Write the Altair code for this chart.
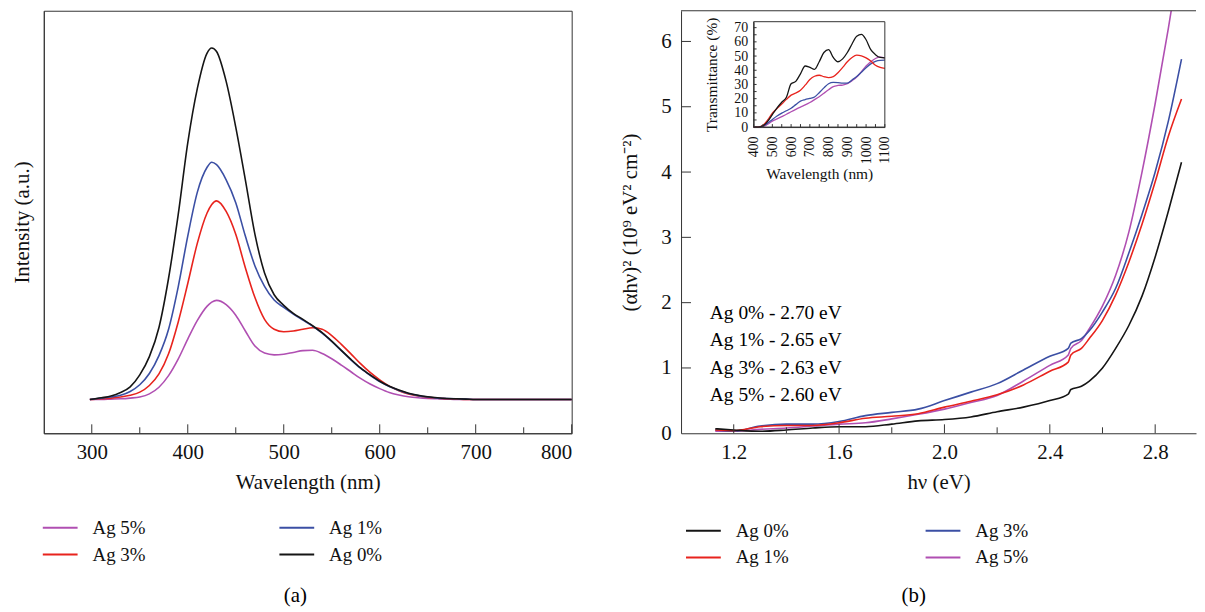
import altair as alt
import pandas as pd

FONT = "Liberation Serif"
AXIS_COLOR = "#333333"
BLACK, BLUE, RED, MAGENTA = "#151515", "#3b4fa4", "#e8231d", "#b04fb2"

# ---------------- Panel (a): PL spectra ----------------
pl_wavelength = [298, 310, 320, 330, 340, 350, 360, 370, 380, 390, 400, 410, 420, 425, 430,
                 440, 450, 460, 470, 480, 490, 500, 510, 520, 530, 540, 550, 560, 570, 580,
                 590, 600, 610, 620, 630, 640, 650, 660, 670, 680, 690, 700, 750, 800]
pl_ag0 = [0.0, 0.005, 0.01, 0.02, 0.036, 0.07, 0.122, 0.205, 0.345, 0.525, 0.73, 0.885, 0.985, 1.0, 0.99,
          0.905, 0.775, 0.625, 0.47, 0.36, 0.298, 0.268, 0.245, 0.228, 0.21, 0.19, 0.166, 0.14, 0.114, 0.09,
          0.07, 0.052, 0.038, 0.027, 0.018, 0.012, 0.008, 0.005, 0.003, 0.002, 0.001, 0.0, 0.0, 0.0]
pl_ag1 = [0.0, 0.004, 0.007, 0.012, 0.023, 0.042, 0.074, 0.125, 0.2, 0.32, 0.465, 0.59, 0.66, 0.675, 0.668,
          0.625, 0.56, 0.465, 0.38, 0.322, 0.283, 0.262, 0.243, 0.226, 0.209, 0.189, 0.165, 0.139, 0.113, 0.089,
          0.069, 0.051, 0.037, 0.026, 0.017, 0.011, 0.007, 0.004, 0.003, 0.002, 0.001, 0.0, 0.0, 0.0]
pl_ag3 = [0.0, 0.002, 0.004, 0.007, 0.012, 0.021, 0.04, 0.073, 0.13, 0.22, 0.33, 0.445, 0.53, 0.555, 0.565,
          0.535, 0.47, 0.375, 0.29, 0.228, 0.2, 0.193, 0.195, 0.2, 0.204, 0.2, 0.182, 0.157, 0.13, 0.102,
          0.077, 0.056, 0.038, 0.025, 0.016, 0.01, 0.006, 0.004, 0.002, 0.001, 0.0, 0.0, 0.0, 0.0]
pl_ag5 = [0.0, 0.0, 0.001, 0.002, 0.004, 0.007, 0.016, 0.035, 0.068, 0.115, 0.172, 0.225, 0.265, 0.277, 0.282,
          0.27, 0.24, 0.195, 0.152, 0.132, 0.127, 0.129, 0.134, 0.139, 0.14, 0.131, 0.116, 0.098, 0.079, 0.06,
          0.044, 0.031, 0.02, 0.013, 0.008, 0.005, 0.003, 0.002, 0.001, 0.0, 0.0, 0.0, 0.0, 0.0]
pl_x_domain = [250, 800]
pl_y_domain = [-0.096, 1.106]
pl_major_ticks = [300, 400, 500, 600, 700, 800]
pl_minor_ticks = [350, 450, 550, 650, 750]
# legend fills column by column: column 1 = Ag 5%, Ag 3%; column 2 = Ag 1%, Ag 0%
pl_order = ["Ag 5%", "Ag 3%", "Ag 1%", "Ag 0%"]
pl_colors = [MAGENTA, RED, BLUE, BLACK]

# ---------------- Panel (b): Tauc plot ----------------
ab_energy = [1.13, 1.2, 1.3, 1.4, 1.5, 1.6, 1.7, 1.8, 1.9, 2.0, 2.1, 2.2, 2.3, 2.4, 2.47, 2.48,
             2.52, 2.55, 2.6, 2.65, 2.7, 2.75, 2.8, 2.85, 2.9]
ab_ag0 = [0.07, 0.05, 0.03, 0.05, 0.08, 0.1, 0.1, 0.14, 0.19, 0.21, 0.25, 0.33, 0.4, 0.5, 0.6, 0.67,
          0.72, 0.8, 1.0, 1.3, 1.65, 2.1, 2.7, 3.4, 4.15]
ab_ag1 = [0.05, 0.04, 0.1, 0.12, 0.12, 0.16, 0.23, 0.26, 0.3, 0.4, 0.49, 0.59, 0.74, 0.95, 1.09, 1.2,
          1.3, 1.45, 1.73, 2.12, 2.62, 3.2, 3.85, 4.55, 5.12]
ab_ag3 = [0.05, 0.03, 0.11, 0.14, 0.14, 0.18, 0.27, 0.32, 0.37, 0.5, 0.63, 0.76, 0.97, 1.18, 1.3, 1.38,
          1.45, 1.57, 1.86, 2.22, 2.76, 3.35, 4.0, 4.78, 5.73]
ab_ag5 = [0.03, 0.03, 0.06, 0.08, 0.11, 0.14, 0.16, 0.22, 0.29, 0.37, 0.47, 0.58, 0.8, 1.04, 1.2, 1.3,
          1.42, 1.6, 1.95, 2.42, 3.08, 4.0, 5.05, 6.2, 7.45]
ab_x_domain = [1.0, 2.955]
ab_y_domain = [0, 6.47]
ab_major_ticks = [1.2, 1.6, 2.0, 2.4, 2.8]
ab_minor_ticks = [1.4, 1.8, 2.2, 2.6]
ab_y_ticks = [0, 1, 2, 3, 4, 5, 6]
# column 1 = Ag 0%, Ag 1%; column 2 = Ag 3%, Ag 5%
ab_order = ["Ag 0%", "Ag 1%", "Ag 3%", "Ag 5%"]
ab_colors = [BLACK, RED, BLUE, MAGENTA]
ab_annotations = ["Ag 0% - 2.70 eV", "Ag 1% - 2.65 eV", "Ag 3% - 2.63 eV", "Ag 5% - 2.60 eV"]

# ---------------- Inset: transmittance ----------------
tr_wavelength = [400, 425, 450, 475, 500, 525, 550, 575, 600, 625, 650, 675, 700, 725, 750,
                 775, 800, 825, 850, 875, 900, 925, 950, 975, 1000, 1025, 1050, 1075, 1100]
tr_ag0 = [0, 0, 0.8, 4, 8.8, 13.5, 17.5, 21, 30.5, 32.2, 37.5, 43, 42, 40.6, 46,
          52.5, 54.5, 49, 46, 48, 52.5, 58.5, 64, 65.3, 61.5, 54.5, 51, 49, 48.7]
tr_ag1 = [0, 0, 1.2, 5, 9.8, 13, 16.2, 19.5, 22.5, 24, 26, 29.5, 33.5, 35.8, 36.5,
          35.5, 34.8, 35.5, 38.3, 42, 46, 49, 50.6, 50.2, 48.7, 46.5, 43.5, 42, 41.3]
tr_ag3 = [0, 0, 0.8, 2.8, 5.4, 7.8, 9.8, 11.5, 13.2, 15.8, 18.3, 19.4, 20.2, 21.2, 24.2,
          27.6, 30.5, 31.4, 31.3, 31, 31, 33.2, 35.6, 38.6, 41.8, 44.5, 46.3, 47, 47.1]
tr_ag5 = [0, 0, 0.3, 2, 4.2, 5.8, 7.4, 9, 10.8, 12.5, 14.1, 15.6, 17.3, 19.3, 21.4,
          23.8, 26.3, 28.5, 29.3, 29.6, 30.6, 32.7, 35.2, 39, 43, 46, 48.3, 49.3, 48.7]
tr_x_domain = [400, 1100]
tr_y_domain = [0, 74.2]
tr_x_labels = [400, 500, 600, 700, 800, 900, 1000, 1100]
tr_y_labels = [0, 10, 20, 30, 40, 50, 60, 70]
tr_x_ticks = [400, 450, 500, 550, 600, 650, 700, 750, 800, 850, 900, 950, 1000, 1050, 1100]
tr_y_ticks = [0, 5, 10, 15, 20, 25, 30, 35, 40, 45, 50, 55, 60, 65, 70]

# ---------------- layout constants ----------------
WL, WR, H = 531, 518, 425
INSET_X = [73, 205]
INSET_Y = [117, 11]


def long_df(xname, yname, xs, series):
    rows = []
    for name, vals in series:
        for x, v in zip(xs, vals):
            rows.append({xname: x, yname: v, "sample": name})
    return pd.DataFrame(rows)


pl_df = long_df("wavelength", "intensity", pl_wavelength,
                [("Ag 5%", pl_ag5), ("Ag 3%", pl_ag3), ("Ag 1%", pl_ag1), ("Ag 0%", pl_ag0)])
ab_df = long_df("energy", "value", ab_energy,
                [("Ag 5%", ab_ag5), ("Ag 3%", ab_ag3), ("Ag 1%", ab_ag1), ("Ag 0%", ab_ag0)])
tr_df = long_df("wl", "T", tr_wavelength,
                [("Ag 5%", tr_ag5), ("Ag 3%", tr_ag3), ("Ag 1%", tr_ag1), ("Ag 0%", tr_ag0)])


def legend(x, y, colpad):
    return alt.Legend(title=None, orient="none", legendX=x, legendY=y, columns=2,
                      columnPadding=colpad, rowPadding=7, clipHeight=20, symbolType="stroke",
                      symbolSize=1225, symbolStrokeWidth=2, labelOffset=14)


# ---------------- panel (a) ----------------
xa = alt.X("wavelength:Q", scale=alt.Scale(domain=pl_x_domain, nice=False, zero=False),
           axis=alt.Axis(values=pl_major_ticks, title="Wavelength (nm)", labelPadding=8, titlePadding=10))
ya = alt.Y("intensity:Q", scale=alt.Scale(domain=pl_y_domain, nice=False, zero=False),
           axis=alt.Axis(labels=False, title="Intensity (a.u.)", titlePadding=11, minExtent=0))
ca = alt.Color("sample:N", scale=alt.Scale(domain=pl_order, range=pl_colors), legend=legend(-2, 510, 133))

lines_a = alt.Chart(pl_df).mark_line(strokeWidth=1.6, interpolate="monotone").encode(x=xa, y=ya, color=ca)
major_a = alt.Chart(pd.DataFrame({"wavelength": pl_major_ticks})).mark_rule(color=AXIS_COLOR).encode(
    x=xa, y=alt.value(H), y2=alt.value(H - 9))
minor_a = alt.Chart(pd.DataFrame({"wavelength": pl_minor_ticks})).mark_rule(color=AXIS_COLOR).encode(
    x=xa, y=alt.value(H), y2=alt.value(H - 6))
cap_a = alt.Chart(pd.DataFrame({"t": ["(a)"]})).mark_text(font=FONT, fontSize=21, baseline="middle").encode(
    x=alt.value(253), y=alt.value(589), text="t:N")
panel_a = alt.layer(lines_a, major_a, minor_a, cap_a).properties(
    width=WL, height=H, view=alt.ViewBackground(stroke=AXIS_COLOR, strokeWidth=1))

# ---------------- panel (b) ----------------
xb = alt.X("energy:Q", scale=alt.Scale(domain=ab_x_domain, nice=False, zero=False),
           axis=alt.Axis(values=ab_major_ticks, format=".1f", title="hν (eV)", labelPadding=8, titlePadding=10))
yb = alt.Y("value:Q", scale=alt.Scale(domain=ab_y_domain, nice=False, zero=False),
           axis=alt.Axis(values=ab_y_ticks, title="(αhν)² (10⁹ eV² cm⁻²)", labelPadding=10, titlePadding=20))
cb = alt.Color("sample:N", scale=alt.Scale(domain=ab_order, range=ab_colors), legend=legend(4, 513, 136))

lines_b = alt.Chart(ab_df).mark_line(strokeWidth=1.6, interpolate="monotone", clip=True).encode(
    x=xb, y=yb, color=cb)
major_b = alt.Chart(pd.DataFrame({"energy": ab_major_ticks})).mark_rule(color=AXIS_COLOR).encode(
    x=xb, y=alt.value(H), y2=alt.value(H - 9))
minor_b = alt.Chart(pd.DataFrame({"energy": ab_minor_ticks})).mark_rule(color=AXIS_COLOR).encode(
    x=xb, y=alt.value(H), y2=alt.value(H - 6))
ytick_b = alt.Chart(pd.DataFrame({"value": ab_y_ticks[1:]})).mark_rule(color=AXIS_COLOR).encode(
    y=yb, x=alt.value(0), x2=alt.value(10))
top_b = alt.Chart(pd.DataFrame({"value": [ab_y_domain[1]]})).mark_rule(color=AXIS_COLOR).encode(
    y=yb, x=alt.value(0), x2=alt.value(WR))
annot_b = alt.Chart(pd.DataFrame({"t": ["\n".join(ab_annotations)]})).mark_text(
    font=FONT, fontSize=19.5, align="left", baseline="top", lineHeight=27.5, lineBreak="\n").encode(
    x=alt.value(29), y=alt.value(295), text="t:N")
cap_b = alt.Chart(pd.DataFrame({"t": ["(b)"]})).mark_text(font=FONT, fontSize=21, baseline="middle").encode(
    x=alt.value(234), y=alt.value(589), text="t:N")

xi = alt.X("wl:Q", scale=alt.Scale(domain=tr_x_domain, range=INSET_X, nice=False, zero=False),
           axis=alt.Axis(orient="bottom", offset=-(H - INSET_Y[0]), values=tr_x_labels, format="d",
                         labelAngle=270, labelFontSize=14, labelPadding=9, title="Wavelength (nm)",
                         titleFontSize=15.5, titlePadding=3))
yi = alt.Y("T:Q", scale=alt.Scale(domain=tr_y_domain, range=INSET_Y, nice=False, zero=False),
           axis=alt.Axis(orient="left", offset=-INSET_X[0], values=tr_y_labels, format="d", labelFontSize=14,
                         labelPadding=6, title="Transmittance (%)", titleFontSize=15.5, titlePadding=14))

lines_i = alt.Chart(tr_df).mark_line(strokeWidth=1.3, interpolate="monotone").encode(x=xi, y=yi, color=cb)
frame_i = alt.Chart(pd.DataFrame({"wl": [tr_x_domain[0]], "wl_end": [tr_x_domain[1]],
                                  "T": [tr_y_domain[0]], "T_end": [tr_y_domain[1]]})).mark_rect(
    filled=False, stroke=AXIS_COLOR, strokeWidth=1).encode(x=xi, x2="wl_end:Q", y=yi, y2="T_end:Q")
xt_i = alt.Chart(pd.DataFrame({"wl": tr_x_ticks})).mark_rule(color=AXIS_COLOR).encode(
    x=xi, y=alt.value(INSET_Y[0]), y2=alt.value(INSET_Y[0] - 3))
yt_i = alt.Chart(pd.DataFrame({"T": tr_y_ticks})).mark_rule(color=AXIS_COLOR).encode(
    y=yi, x=alt.value(INSET_X[0]), x2=alt.value(INSET_X[0] + 3))

main_b = alt.layer(lines_b, major_b, minor_b, ytick_b, top_b, annot_b, cap_b)
inset_b = alt.layer(lines_i, frame_i, xt_i, yt_i)
panel_b = alt.layer(main_b, inset_b).resolve_scale(x="independent", y="independent").properties(
    width=WR, height=H)

chart = alt.hconcat(panel_a, panel_b, spacing=44).resolve_scale(color="independent").properties(
    padding={"left": 3, "top": 0, "right": 0, "bottom": 0}
).configure_axis(
    labelFont=FONT, titleFont=FONT, labelFontSize=21, titleFontSize=21, titleFontWeight="normal",
    labelColor="#111111", titleColor="#111111", domainColor=AXIS_COLOR, domainWidth=1,
    ticks=False, grid=False
).configure_legend(
    labelFont=FONT, labelFontSize=19, labelColor="#111111"
).configure_view(stroke="transparent")

chart.save("out.html", embed_options={"renderer": "svg", "actions": False})
